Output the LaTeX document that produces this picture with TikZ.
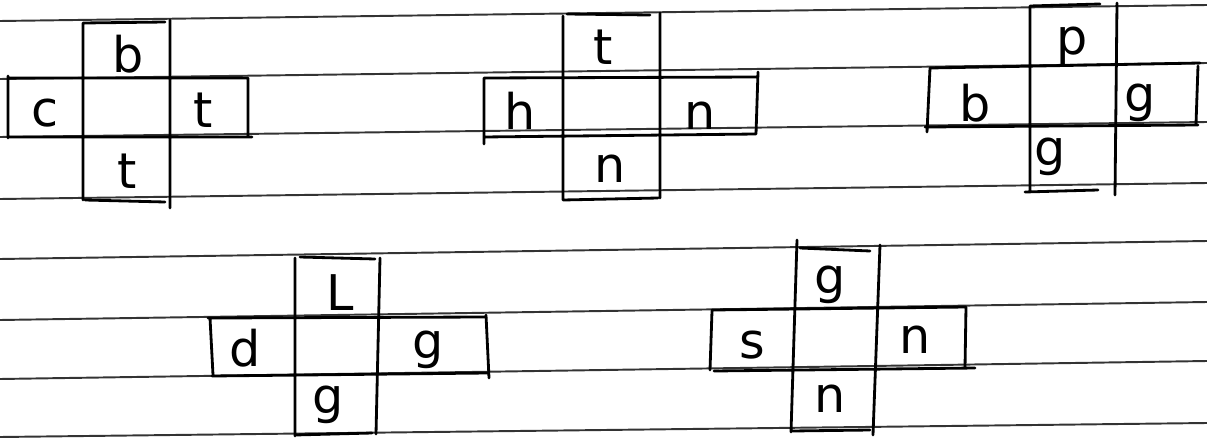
\documentclass[tikz,border=0pt]{standalone}
\usepackage{fontspec}
\setmainfont{DejaVu Sans}
\begin{document}
\begin{tikzpicture}[x={(0.02cm,0)},y={(0,-0.02cm)},
  rule/.style={line width=1.1pt,draw=black!80},
  ink/.style={line width=1.6pt,draw=black,line cap=round,line join=round},
  letter/.style={font=\fontsize{28}{28}\selectfont,inner sep=0pt,anchor=base}]
\useasboundingbox[fill=white] (0,0) rectangle (1207,439);
% ruled lines
\draw[rule] (0,21) -- (1207,5);
\draw[rule] (0,79) -- (1207,63);
\draw[rule] (0,137) -- (1207,122);
\draw[rule] (0,199) -- (1207,183);
\draw[rule] (0,259) -- (1207,241);
\draw[rule] (0,320) -- (1207,302);
\draw[rule] (0,379) -- (1207,361);
\draw[rule] (0,437) -- (1207,423);
% cross 1
\draw[ink] (83,23) -- (83,200) (170,20) -- (170,208)
  (83,23) -- (165,22) (85,200) -- (165,202)
  (8,78) -- (248,78) -- (248,137) (8,137) -- (252,137) (8,76) -- (8,138);
\node[letter] (c1t) at (128,73) {b};
\node[letter] (c1l) at (45,127) {c};
\node[letter] (c1r) at (203,128) {t};
\node[letter] (c1b) at (127,188) {t};
% cross 2
\draw[ink] (563,16) -- (563,200) (660,13) -- (660,198)
  (567,14) -- (650,15) (563,200) -- (658,198)
  (484,78) -- (758,77) (484,137) -- (756,134) (484,78) -- (484,144) (758,72) -- (756,134);
\node[letter] (c2t) at (603,65) {t};
\node[letter] (c2l) at (520,130) {h};
\node[letter] (c2r) at (700,130) {n};
\node[letter] (c2b) at (610,182) {n};
% cross 3
\draw[ink] (1030,6) -- (1030,192) (1117,3) -- (1115,195)
  (1030,6) -- (1100,4) (1025,192) -- (1098,190)
  (930,68) -- (1200,63) (925,127) -- (1198,125) (930,68) -- (927,132) (1198,66) -- (1196,124);
\node[letter] (c3t) at (1072,55) {p};
\node[letter] (c3l) at (975,122) {b};
\node[letter] (c3r) at (1140,112) {g};
\node[letter] (c3b) at (1050,165) {g};
% cross 4
\draw[ink] (295,258) -- (295,436) (380,258) -- (376,434)
  (300,257) -- (375,259) (295,435) -- (372,433)
  (208,318) -- (486,317) (212,376) -- (487,373) (210,318) -- (213,375) (486,315) -- (489,378);
\node[letter] (c4t) at (340,310) {L};
\node[letter] (c4l) at (245,366) {d};
\node[letter] (c4r) at (428,358) {g};
\node[letter] (c4b) at (328,413) {g};
% cross 5
\draw[ink] (797,240) -- (791,432) (880,245) -- (873,435)
  (800,248) -- (870,251) (792,431) -- (870,430)
  (712,310) -- (966,307) (714,371) -- (975,368) (712,311) -- (710,370) (966,307) -- (965,368);
\node[letter] (c5t) at (830,293) {g};
\node[letter] (c5l) at (752,358) {s};
\node[letter] (c5r) at (915,353) {n};
\node[letter] (c5b) at (830,412) {n};
\end{tikzpicture}
\end{document}
